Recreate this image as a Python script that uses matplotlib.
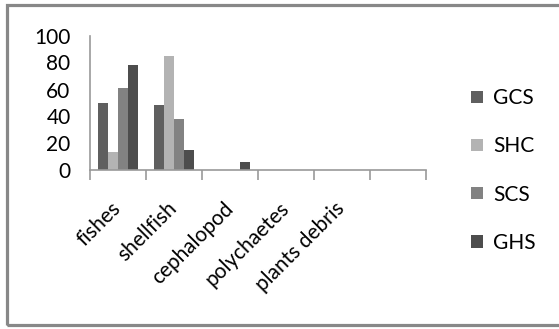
import numpy as np
import matplotlib.pyplot as plt
import matplotlib.patches as patches
import matplotlib.transforms as mtransforms

categories = ["fishes", "shellfish", "cephalopod", "polychaetes", "plants debris", ""]
series = ["GCS", "SHC", "SCS", "GHS"]
GCS = [50, 48.5, 0.5, 0, 0, 0]
SHC = [14, 85, 0, 0, 0, 0]
SCS = [61, 38.5, 0, 0, 0, 0]
GHS = [78, 15, 6, 0, 0, 0]
colors = ["#5f5f5f", "#b3b3b3", "#828282", "#4d4d4d"]

plt.rcParams['font.family'] = ['Lato', 'DejaVu Sans']

fig = plt.figure(figsize=(5.59, 3.29), dpi=100)
ax = fig.add_axes([90 / 559, 1 - 170.5 / 329, 336 / 559, 135 / 329])

x = np.arange(len(categories))
w = 10 / 56
for i, (name, vals) in enumerate(zip(series, [GCS, SHC, SCS, GHS])):
    ax.bar(x + (i - 1.5) * w, vals, w, color=colors[i], label=name)

ax.set_xlim(-0.5, len(categories) - 0.5)
ax.set_ylim(0, 100)

for s in ['top', 'right']:
    ax.spines[s].set_visible(False)
for s in ['left', 'bottom']:
    ax.spines[s].set_color('#999999')
    ax.spines[s].set_linewidth(1.2)

# y axis: labels only, short marks at 0 and 100
ax.set_yticks([0, 20, 40, 60, 80, 100])
ax.tick_params(axis='y', length=0, pad=14, labelsize=15)
ax.set_yticks([0, 100], minor=True)
ax.tick_params(axis='y', which='minor', length=6, width=1.2, color='#999999', direction='out')

# x axis: marks between categories, labels on the diagonal
ax.set_xticks(np.arange(len(categories) + 1) - 0.5, minor=True)
ax.tick_params(axis='x', which='minor', length=7, width=1.2, color='#999999', direction='out')
ax.set_xticks(x)
ax.set_xticklabels(categories, rotation=45, ha='right', va='top', fontsize=15)
ax.tick_params(axis='x', which='major', length=0, pad=20)
offset = mtransforms.ScaledTranslation(7 / 100, 0, fig.dpi_scale_trans)
for lbl in ax.get_xticklabels():
    lbl.set_transform(lbl.get_transform() + offset)

fig.legend(loc='upper left', bbox_to_anchor=(463 / 559, 1 - 80 / 329),
           frameon=False, fontsize=15, handlelength=0.55, handleheight=0.55,
           handletextpad=0.5, labelspacing=1.35, borderaxespad=0)

# grey frame round the chart, open at the right edge
fig.patches.append(patches.Rectangle((7 / 559, 1 - 324.5 / 329), 600 / 559, 320 / 329,
                                     transform=fig.transFigure, fill=False,
                                     edgecolor='#888888', linewidth=2.3))

fig.savefig("out.png", dpi=100)
